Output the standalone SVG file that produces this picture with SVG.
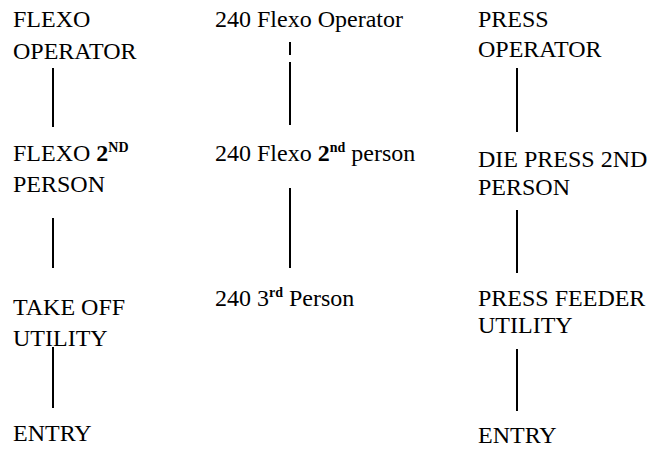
<svg xmlns="http://www.w3.org/2000/svg" width="649" height="451" viewBox="0 0 649 451">
<style>
text{font-family:"Liberation Serif","Times New Roman",serif;font-size:24px;fill:#000}
.sup{font-size:14px;font-weight:bold}
.b{font-weight:bold}
.c line{stroke:#000;stroke-width:2}
</style>
<rect width="649" height="451" fill="#fff"/>
<g id="flexo-operator"><text x="13" y="27">FLEXO</text><text x="13" y="59">OPERATOR</text></g>
<g id="flexo-2nd"><text x="13" y="161">FLEXO <tspan class="b">2</tspan><tspan class="sup" dy="-9">ND</tspan></text><text x="13" y="192">PERSON</text></g>
<g id="take-off"><text x="13" y="315">TAKE OFF</text><text x="13" y="346">UTILITY</text></g>
<g id="entry-1"><text x="13" y="441">ENTRY</text></g>
<g id="flexo240-operator"><text x="215" y="27">240 Flexo Operator</text></g>
<g id="flexo240-2nd"><text x="215" y="161">240 Flexo <tspan class="b">2</tspan><tspan class="sup" dy="-9">nd</tspan><tspan dy="9"> person</tspan></text></g>
<g id="p240-3rd"><text x="215" y="306">240 3<tspan class="sup" dy="-9">rd</tspan><tspan dy="9"> Person</tspan></text></g>
<g id="press-operator"><text x="478" y="27">PRESS</text><text x="478" y="57">OPERATOR</text></g>
<g id="die-press-2nd"><text x="478" y="167">DIE PRESS 2ND</text><text x="478" y="195">PERSON</text></g>
<g id="press-feeder"><text x="478" y="306">PRESS FEEDER</text><text x="478" y="333">UTILITY</text></g>
<g id="entry-2"><text x="478" y="443">ENTRY</text></g>
<g id="connectors" class="c">
<line x1="53" y1="68" x2="53" y2="127"/>
<line x1="53" y1="218" x2="53" y2="268"/>
<line x1="53" y1="347" x2="53" y2="408"/>
<line x1="290" y1="42" x2="290" y2="55" stroke-width="2.5"/>
<line x1="290" y1="62" x2="290" y2="125"/>
<line x1="290" y1="188" x2="290" y2="268"/>
<line x1="517" y1="68" x2="517" y2="132"/>
<line x1="517" y1="210" x2="517" y2="273"/>
<line x1="517" y1="349" x2="517" y2="411"/>
</g>
</svg>
